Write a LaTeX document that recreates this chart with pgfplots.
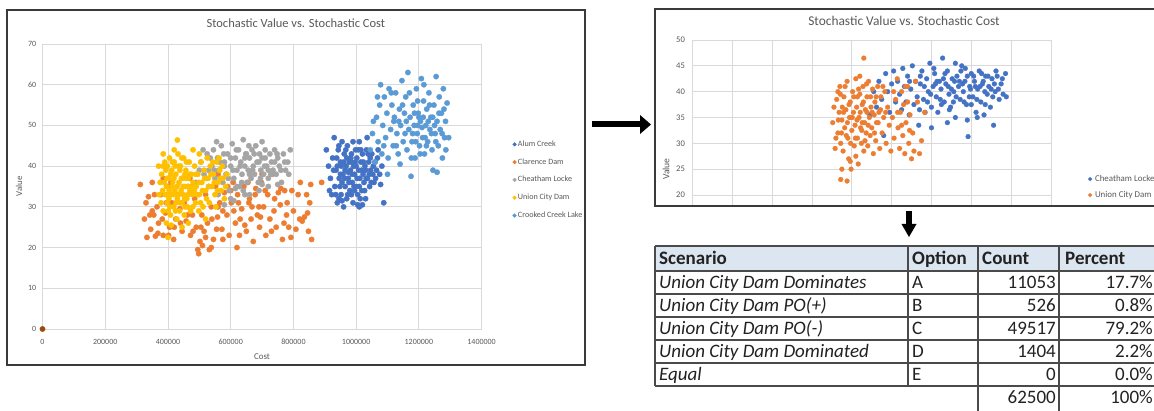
\documentclass[border=0pt]{standalone}
\usepackage{pgfplots}
\pgfplotsset{compat=1.18}
\usepackage{fontspec}
\setmainfont{Carlito}
\definecolor{cAlum}{HTML}{4472C4}
\definecolor{cClar}{HTML}{ED7D31}
\definecolor{cCheat}{HTML}{A5A5A5}
\definecolor{cUnion}{HTML}{FFC000}
\definecolor{cCrook}{HTML}{5B9BD5}
\definecolor{cBrown}{HTML}{9E480E}
\definecolor{txtgray}{HTML}{595959}
\definecolor{gridgray}{HTML}{D9D9D9}
\definecolor{hdr}{HTML}{DCE6F1}
\definecolor{framec}{HTML}{3A3A3A}
\definecolor{tabline}{HTML}{4A4A4A}
\definecolor{tabtxt}{HTML}{222222}
\newcommand\tf{\fontsize{19}{22}\selectfont}
\pgfplotsset{
 excel/.style={
  scale only axis, axis line style={draw=none}, major tick length=0pt,
  grid=major, major grid style={gridgray, line width=0.8pt},
  scaled x ticks=false, scaled y ticks=false,
  /pgf/number format/assume math mode=true,
  /pgf/number format/fixed, /pgf/number format/1000 sep={},
  tick label style={text=txtgray},
  title style={text=txtgray},
  label style={text=txtgray},
  every axis title shift=0pt,
  legend cell align=left,
  legend image code/.code={\draw[##1, mark size=1.9pt] plot coordinates {(0pt,0pt)};},
 },
 dot/.style={only marks, mark=*, mark size=#1, line width=0.3pt},
}
\begin{document}
\begin{tikzpicture}[x=1pt,y=1pt]
\useasboundingbox (0,0) rectangle (1154,411);
\clip (0,0) rectangle (1154,411);
\fill[white] (0,0) rectangle (1154,411);

% ---------------- left chart ----------------
\begin{axis}[excel, at={(42.5pt,82pt)}, anchor=south west,
  width=439.1pt, height=285pt,
  xmin=0, xmax=1400000, ymin=0, ymax=70,
  xtick={0,200000,...,1400000}, ytick={0,10,...,70}, clip=false,
  tick label style={font=\fontsize{8}{9}\selectfont},
  xticklabel style={anchor=center, yshift=-13pt},
  yticklabel style={anchor=east, inner sep=0pt, xshift=-6pt},
  title={Stochastic Value vs. Stochastic Cost},
  title style={font=\fontsize{12.5}{14}\selectfont, at={(axis description cs:0.577,1.074)}, anchor=center},
  xlabel={Cost}, xlabel style={font=\fontsize{8.9}{10}\selectfont, at={(axis description cs:0.5,-0.0982)}, anchor=center},
  ylabel={Value}, ylabel style={font=\fontsize{8.9}{10}\selectfont, at={(axis description cs:-0.0535,0.5)}, anchor=center},
  legend style={draw=none, fill=none, at={(1.0635,0.668)}, anchor=north west,
    font=\fontsize{8.1}{9}\selectfont, text=txtgray,
    nodes={inner sep=0pt, text height=5.5pt, text depth=1.5pt}, row sep=10.8pt,
    /tikz/every odd column/.append style={column sep=1.5pt}},
]
\addplot[dot=2.7pt, color=cAlum] coordinates {
(905000,44) (912000,40) (918000,37) (922000,33) (925000,42) (930000,47) (932000,35) (936000,39) (940000,31) (943000,44)
(946000,37) (950000,41) (952000,33) (955000,46) (958000,38) (960000,30) (962000,43) (965000,35) (968000,40) (970000,32)
(972000,45) (975000,37) (978000,41) (980000,34) (982000,39) (985000,43) (988000,36) (990000,31) (992000,40) (995000,38)
(998000,44) (1000000,35) (1002000,42) (1005000,33) (1008000,39) (1010000,46) (1012000,37) (1015000,41) (1018000,34) (1020000,43)
(1022000,38) (1025000,36) (1028000,40) (1030000,32) (1033000,44) (1036000,37) (1040000,41) (1043000,35) (1046000,39) (1050000,43)
(1053000,38) (1057000,36) (1060000,41) (1065000,39) (1070000,44) (1075000,38) (1082000,40) (1088000,31) (1078000,35.5) (915000,34)
(945000,45) (1035000,47) (985000,33) (960000,41) (1005000,30.5) (945000,32) (1020000,30.5) (975000,38.5) (1000000,40) (955000,36)
(965000,39) (985000,41) (1010000,35) (1030000,39) (950000,38) (995000,34) (1015000,44) (970000,42) (940000,40) (1045000,42)
(928000,39) (938000,42) (948000,35) (953000,40) (963000,37) (967000,44) (973000,33) (977000,36) (983000,42) (987000,38)
(993000,35) (997000,41) (1003000,37) (1007000,44) (1013000,32) (1017000,39) (1023000,41) (1027000,34) (1032000,37) (1038000,43)
(1042000,38) (1048000,36) (1055000,40) (1062000,37) (1068000,42) (935000,33) (955000,31.5) (990000,46) (1010000,30)
};
\addlegendentry{Alum Creek}
\addplot[dot=2.7pt, color=cClar] coordinates {
(312000,35.5) (325000,27) (333000,22.5) (338000,32.5) (345000,24.5) (350000,36) (355000,28) (360000,22.8) (365000,30) (370000,26)
(378000,33) (385000,23) (392000,28.5) (398000,35) (405000,25) (412000,31) (418000,22) (425000,27) (432000,33) (438000,29.5)
(445000,24) (452000,31) (458000,26.5) (465000,35) (472000,23) (478000,28) (485000,32) (490000,25) (495000,19.5) (498000,18.5)
(502000,21.5) (508000,28) (515000,24) (520000,33) (526000,26) (532000,19.5) (538000,30) (545000,22) (552000,35) (558000,27.5)
(565000,31) (572000,24.5) (580000,33.5) (588000,28) (595000,23) (602000,31) (608000,36) (615000,26) (622000,33) (628000,23)
(635000,29.5) (642000,35) (650000,24) (658000,31) (665000,27) (672000,21.5) (678000,33) (685000,28) (692000,25) (698000,36)
(705000,30) (712000,23) (718000,33) (725000,27) (732000,38) (738000,29) (745000,25) (752000,33.5) (758000,30.5) (765000,22)
(772000,34) (778000,28) (785000,25) (792000,22.5) (800000,29) (808000,24.5) (815000,33) (822000,36) (828000,26.5) (835000,27.5)
(842000,33) (848000,24) (852000,31) (855000,35.5) (858000,22) (890000,36) (470000,37) (560000,38) (620000,20) (700000,38)
(350000,29) (410000,36) (680000,34.5) (600000,34) (660000,32) (740000,32) (560000,30) (630000,27) (690000,30) (770000,26)
(330000,31) (342000,28) (357000,33) (368000,23.5) (382000,27) (395000,31) (402000,23) (420000,25) (440000,26) (462000,28)
(480000,24) (505000,25) (520000,22.5) (540000,27) (555000,24.5) (575000,29) (590000,35) (610000,29) (625000,31) (645000,25.5)
(668000,30) (695000,27.5) (710000,34) (730000,24) (760000,34.5) (780000,31) (795000,34) (820000,27) (845000,28.5) (538000,20)
(510000,20.5) (385000,37) (575000,22) (655000,36)
};
\addlegendentry{Clarence Dam}
\addplot[dot=2.7pt, color=cCheat] coordinates {
(490000,36) (505000,41) (515000,38) (525000,43) (530000,35) (540000,40) (545000,44) (550000,37) (558000,42) (562000,39)
(570000,45) (575000,36) (580000,41) (585000,38) (590000,43) (595000,34) (600000,40) (605000,45.5) (610000,37) (615000,42)
(620000,39) (625000,44) (628000,35) (632000,41) (636000,38) (640000,46.5) (645000,40) (648000,43) (652000,36) (656000,39)
(660000,42) (665000,37) (668000,44) (672000,40) (676000,38) (680000,45) (684000,41) (688000,36) (692000,43) (696000,39)
(700000,42) (705000,38) (710000,44) (715000,40) (720000,37) (725000,43) (730000,41) (735000,39) (740000,44) (745000,38)
(750000,42) (755000,40) (762000,36) (768000,43) (775000,39) (782000,41) (790000,44) (560000,33) (600000,32) (640000,34)
(690000,34) (720000,35) (610000,31.5) (580000,30.5) (660000,33) (750000,35.5) (530000,39) (555000,46) (700000,46) (620000,35)
(600000,42) (630000,40) (660000,38) (690000,41) (720000,39) (580000,40) (650000,43) (710000,42) (670000,39) (740000,41)
(500000,39) (512000,44) (522000,37) (535000,42) (548000,39) (565000,41) (578000,43) (592000,37) (607000,39) (618000,44)
(635000,36) (645000,42) (658000,45) (675000,43) (695000,37) (708000,40) (728000,38) (748000,43) (760000,39) (772000,41)
(785000,38) (615000,34.5) (700000,35.5) (645000,33)
};
\addlegendentry{Cheatham Locke}
\addplot[dot=2.7pt, color=cUnion] coordinates {
(372000,33) (380000,38) (385000,29) (390000,41) (395000,35) (398000,31) (402000,37) (405000,42) (408000,28) (410000,33)
(412000,39) (415000,36) (418000,30) (420000,41) (422000,34) (425000,38) (428000,27) (430000,32) (432000,43) (435000,36)
(437000,29) (440000,40) (442000,34) (445000,31) (447000,37) (450000,42) (452000,28) (455000,35) (457000,39) (460000,32)
(462000,30) (465000,37) (468000,41) (470000,34) (472000,29) (475000,38) (478000,33) (480000,36) (485000,40) (488000,31)
(490000,35) (495000,38) (498000,29) (500000,33) (505000,41) (508000,36) (512000,30) (515000,39) (520000,34) (525000,42)
(528000,37) (532000,31) (535000,40) (540000,35) (545000,38) (550000,33) (555000,41) (560000,36) (565000,39) (570000,34)
(575000,37) (580000,32) (588000,38) (395000,26) (400000,22.5) (430000,46.4) (445000,25) (465000,26) (385000,43) (420000,44)
(480000,44) (520000,27) (455000,30) (375000,36) (410000,25.5) (370000,40) (500000,43) (383000,34) (393000,39) (403000,32)
(413000,35) (423000,40) (433000,33) (443000,37) (453000,32) (463000,35) (388000,36) (398000,40) (418000,33) (438000,39)
(458000,37) (406000,30) (426000,31) (448000,35) (396000,33) (378000,31) (384000,40) (391000,33) (397000,37) (401000,29)
(404000,34) (409000,38) (414000,41) (419000,37) (424000,29) (429000,35) (434000,40) (439000,31) (444000,42) (449000,33)
(454000,38) (459000,41) (464000,33) (469000,38) (474000,35) (479000,30) (484000,34) (489000,38) (494000,33) (499000,36)
(504000,31) (510000,34) (517000,37) (523000,32) (530000,35) (537000,38) (543000,41) (548000,36) (553000,30) (558000,34)
(563000,42) (568000,37) (573000,40) (584000,35)
};
\addlegendentry{Union City Dam}
\addplot[dot=2.7pt, color=cCrook] coordinates {
(1045000,44) (1052000,48) (1060000,41) (1065000,52) (1070000,46) (1075000,55) (1078000,60) (1082000,43) (1085000,50) (1090000,57)
(1094000,47) (1098000,53) (1102000,42) (1105000,59) (1110000,49) (1114000,55) (1118000,45) (1122000,52) (1126000,58) (1130000,48)
(1134000,43) (1138000,54) (1142000,50) (1146000,61) (1150000,46) (1154000,53) (1158000,57) (1162000,44) (1165000,63) (1168000,49)
(1172000,52) (1175000,37.5) (1178000,46) (1182000,55) (1185000,50) (1188000,42) (1192000,59) (1195000,48) (1198000,53) (1202000,45)
(1205000,51) (1208000,61.5) (1212000,47) (1215000,56) (1218000,43) (1222000,50) (1225000,54) (1228000,46) (1232000,58) (1235000,49)
(1238000,52) (1242000,44) (1245000,39) (1248000,55) (1252000,48) (1255000,62) (1258000,51) (1262000,45) (1265000,57) (1268000,49)
(1272000,53) (1275000,42) (1278000,59) (1282000,47) (1285000,51) (1290000,55.5) (1295000,47) (1258000,38.5) (1140000,40.5) (1100000,38)
(1160000,51) (1210000,49.5) (1190000,46) (1230000,51) (1120000,51) (1250000,50) (1180000,48) (1200000,52) (1220000,47) (1240000,48)
(1055000,51) (1068000,57) (1088000,45) (1112000,58) (1128000,45) (1136000,51) (1148000,55) (1156000,48) (1170000,58) (1176000,42)
(1186000,53) (1196000,56) (1204000,43) (1214000,52) (1224000,45) (1234000,55) (1244000,52) (1254000,46) (1264000,53) (1274000,48)
(1286000,44) (1280000,54) (1216000,60) (1196000,50)
};
\addlegendentry{Crooked Creek Lake}
\addplot[dot=2.7pt, color=cBrown, forget plot] coordinates {(0,0)};
\end{axis}
\draw[framec, line width=2pt] (7,46) rectangle (585,401);

% ---------------- arrows ----------------
\fill[black] (592,283.5) rectangle (641,289.5);
\fill[black] (640,296) -- (651,286.5) -- (640,277) -- cycle;
\fill[black] (906,186) rectangle (912,200);
\fill[black] (901.5,187) -- (916.5,187) -- (909,174) -- cycle;

% ---------------- right chart ----------------
\begin{scope}
\clip (655,205) rectangle (1160,402);
\begin{axis}[excel, at={(692.6pt,112.7pt)}, anchor=south west,
  width=358.3pt, height=258.3pt,
  xmin=0, xmax=900000, ymin=0, ymax=50,
  xtick={0,100000,...,900000}, xticklabels={}, ytick={20,25,...,50},
  extra y ticks={0,5,10,15}, extra y tick labels={}, extra y tick style={grid=major},
  clip=false,
  yticklabel style={font=\fontsize{8.6}{10}\selectfont, anchor=east, inner sep=0pt, xshift=-7.5pt},
  title={Stochastic Value vs. Stochastic Cost},
  title style={font=\fontsize{13.4}{15}\selectfont, at={(axis description cs:0.59,1.0736)}, anchor=center},
  ylabel={Value}, ylabel style={font=\fontsize{9.6}{11}\selectfont, at={(axis description cs:-0.074,0.5)}, anchor=center},
  legend style={draw=none, fill=none, at={(1.0952,0.4843)}, anchor=north west,
    font=\fontsize{8.9}{10}\selectfont, text=txtgray,
    nodes={inner sep=0pt, text height=6pt, text depth=1.6pt}, row sep=8.4pt,
    /tikz/every odd column/.append style={column sep=3pt}},
]
\addplot[dot=2.4pt, color=cAlum] coordinates {
(445000,35.5) (455000,40) (462000,37) (468000,42) (475000,38.5) (480000,31.5) (485000,43.5) (490000,40) (495000,36) (500000,41.5)
(505000,44) (510000,38) (515000,42) (520000,39.5) (525000,36.5) (528000,44.5) (532000,41) (536000,38) (540000,43) (544000,35.5)
(548000,40.5) (552000,45) (556000,37.5) (560000,42) (564000,39) (568000,33.5) (572000,41.5) (576000,44) (580000,38.5) (584000,36)
(588000,42.5) (592000,40) (596000,45.5) (600000,37) (604000,41) (608000,43.5) (612000,39) (616000,36) (620000,42) (624000,40.5)
(628000,46.5) (632000,38) (636000,41.5) (640000,44) (644000,39.5) (648000,37) (652000,42.5) (656000,40) (660000,35) (664000,43)
(668000,41) (672000,38.5) (676000,45) (680000,40) (684000,42) (688000,37.5) (692000,31.3) (696000,41) (700000,43.5) (704000,39)
(708000,42) (712000,36) (716000,40.5) (720000,44) (724000,38) (728000,41.5) (732000,35.5) (736000,43) (740000,39.5) (744000,41)
(748000,37) (752000,42.5) (756000,33.5) (760000,40) (765000,43) (770000,38.5) (775000,41.5) (780000,39.5) (786000,43.5) (788000,39)
(600000,33) (640000,34) (570000,36.5) (690000,34.5) (715000,35) (660000,45.5) (625000,37.5) (700000,37.5) (655000,38) (685000,44.5)
(610000,41.5) (630000,42.5) (650000,40.5) (670000,42) (695000,39) (710000,41) (730000,42) (750000,40.5) (590000,38) (545000,42)
(572000,43) (582000,41) (598000,39.5) (606000,44.5) (614000,42) (622000,38.5) (634000,43.5) (642000,41) (658000,42) (662000,39)
(674000,44) (678000,41.5) (682000,38) (690000,43) (698000,40.5) (706000,43) (714000,38.5) (722000,41) (726000,43.5) (734000,40)
(742000,43) (754000,39) (758000,41.5) (762000,44) (768000,40.5) (778000,42.5) (735000,37.5) (645000,36.5)
};
\addlegendentry{Cheatham Locke}
\addplot[dot=2.4pt, color=cClar] coordinates {
(352000,34) (358000,29) (362000,38.5) (365000,32) (368000,36) (370000,41) (372000,30) (375000,34.5) (378000,28.5) (380000,39)
(382000,33) (385000,36.5) (388000,42) (390000,31) (392000,27) (394000,35) (396000,38) (398000,25) (400000,32.5) (402000,40)
(404000,36) (406000,29.5) (408000,33.5) (410000,42.5) (412000,37) (414000,31) (416000,26) (418000,35) (420000,39.5) (422000,33)
(424000,30) (426000,37.5) (428000,41) (430000,28.5) (432000,34) (434000,36.5) (436000,32) (438000,39) (440000,29.5) (442000,42)
(444000,35) (446000,31.5) (448000,37) (450000,33) (452000,40.5) (454000,28) (456000,35.5) (458000,38) (460000,30.5) (462000,34)
(465000,41) (468000,36) (470000,29) (473000,39) (476000,32) (480000,35) (483000,40) (486000,30) (490000,37) (494000,33.5)
(498000,28.5) (502000,35) (506000,31) (510000,38.5) (514000,42.5) (516000,33) (520000,29) (522000,36) (525000,40) (528000,31.5)
(530000,37.5) (533000,28) (536000,34) (540000,38) (543000,30) (546000,35.5) (550000,27) (553000,32) (556000,28.5) (560000,42)
(565000,38) (570000,28) (575000,30.5) (583000,36) (430000,46.5) (372000,23) (375000,25) (396000,26.5) (388000,22.7) (410000,27.5)
(365000,40) (420000,43) (485000,36) (540000,41) (376000,37) (386000,31.5) (398000,35) (414000,39) (426000,34) (438000,36)
(355000,37) (360000,31) (366000,34.5) (371000,39.5) (374000,32) (379000,36) (383000,41) (389000,34) (393000,37.5) (397000,30)
(401000,35) (405000,39) (409000,31) (413000,34.5) (417000,40.5) (421000,36) (425000,32.5) (429000,38) (433000,30.5) (437000,41.5)
(441000,33.5) (447000,39) (451000,36) (457000,32) (461000,39) (466000,34) (472000,36.5) (478000,41) (505000,40) (515000,36)
(525000,33.5) (535000,41) (545000,32.5)
};
\addlegendentry{Union City Dam}
\end{axis}
\end{scope}
\draw[framec, line width=2pt] (655,205) rectangle (1175,402);

% ---------------- table ----------------
\fill[hdr] (655,140) rectangle (1170,165);
\begin{scope}[tabline, line width=1.1pt]
\foreach \yy in {165,140,117,94,71,48,25} \draw (655,\yy) -- (1170,\yy);
\foreach \xx in {655,908,978} \draw (\xx,25) -- (\xx,165);
\foreach \xx in {1059} \draw (\xx,0) -- (\xx,165);
\draw (978,25) -- (978,0);
\end{scope}
\begin{scope}[every node/.style={inner sep=0pt, text=tabtxt, font=\tf}]
\node[anchor=base west] at (659,146.4) {\bfseries Scenario};
\node[anchor=base west] at (912,146.4) {\bfseries Option};
\node[anchor=base west] at (982,146.4) {\bfseries Count};
\node[anchor=base west] at (1065,146.4) {\bfseries Percent};
\node[anchor=base west] at (659,122.4) {\itshape Union City Dam Dominates};
\node[anchor=base west] at (659,99.4) {\itshape Union City Dam PO(+)};
\node[anchor=base west] at (659,76.4) {\itshape Union City Dam PO(-)};
\node[anchor=base west] at (659,53.4) {\itshape Union City Dam Dominated};
\node[anchor=base west] at (659,30.4) {\itshape Equal};
\node[anchor=base west] at (912,122.4) {A};
\node[anchor=base west] at (912,99.4) {B};
\node[anchor=base west] at (912,76.4) {C};
\node[anchor=base west] at (912,53.4) {D};
\node[anchor=base west] at (912,30.4) {E};
\node[anchor=base east] at (1056,122.4) {11053};
\node[anchor=base east] at (1056,99.4) {526};
\node[anchor=base east] at (1056,76.4) {49517};
\node[anchor=base east] at (1056,53.4) {1404};
\node[anchor=base east] at (1056,30.4) {0};
\node[anchor=base east] at (1056,7.4) {62500};
\node[anchor=base east] at (1153,122.4) {17.7\%};
\node[anchor=base east] at (1153,99.4) {0.8\%};
\node[anchor=base east] at (1153,76.4) {79.2\%};
\node[anchor=base east] at (1153,53.4) {2.2\%};
\node[anchor=base east] at (1153,30.4) {0.0\%};
\node[anchor=base east] at (1153,7.4) {100\%};
\end{scope}
\end{tikzpicture}
\end{document}
